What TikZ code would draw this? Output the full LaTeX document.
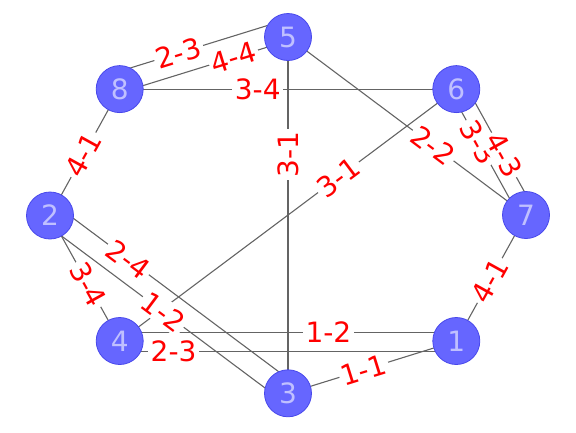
\documentclass[tikz,border=0pt]{standalone}
\usepackage{fontspec}
\setmainfont{DejaVu Sans}
\usetikzlibrary{backgrounds}

\definecolor{nodeblue}{RGB}{102,102,255}
\definecolor{nodeedge}{RGB}{72,72,235}
\definecolor{nodetext}{RGB}{192,192,255}
\definecolor{linkgray}{RGB}{100,100,100}

\tikzset{
  vertex/.style={circle, fill=nodeblue, draw=nodeedge, line width=0.8pt,
    minimum size=47pt, inner sep=0pt, text=nodetext,
    font=\fontsize{28}{32}\selectfont},
  link/.style={draw=linkgray, line width=1.1pt},
  tag/.style={sloped, fill=white, text=red, inner sep=2.5pt,
    font=\fontsize{28}{32}\selectfont},
}

\begin{document}
\begin{tikzpicture}[x=1pt, y=-1pt]
  \useasboundingbox (0,0) rectangle (576,432);

  % nodes on an ellipse
  \node[vertex] (n7) at (526,215)     {7};
  \node[vertex] (n6) at (456.3,89.1)  {6};
  \node[vertex] (n5) at (288,37)      {5};
  \node[vertex] (n8) at (119.7,89.1)  {8};
  \node[vertex] (n2) at (50,215.5)    {2};
  \node[vertex] (n4) at (119.7,341)   {4};
  \node[vertex] (n3) at (288,393.3)   {3};
  \node[vertex] (n1) at (456.3,341)   {1};

  \begin{scope}[on background layer]
    % single edges
    \draw[link] (n8.center) -- node[tag, pos=0.41] {3-4} (n6.center);
    \draw[link] (n3.center) -- node[tag, pos=0.67] {3-1} (n5.center);
    \draw[link] (n6.center) -- node[tag, pos=0.35] {3-1} (n4.center);
    \draw[link] (n5.center) -- node[tag, pos=0.61] {2-2} (n7.center);
    \draw[link] (n2.center) -- node[tag, pos=0.48] {4-1} (n8.center);
    \draw[link] (n2.center) -- node[tag, pos=0.55] {3-4} (n4.center);
    \draw[link] (n3.center) -- node[tag, pos=0.45] {1-1} (n1.center);
    \draw[link] (n1.center) -- node[tag, pos=0.48] {4-1} (n7.center);

    % parallel edges, shifted off the centre line
    \draw[link] ([shift={(-5,-16.3)}]n8.center) -- node[tag, pos=0.38] {2-3}
                ([shift={(-5,-16.3)}]n5.center);
    \draw[link] ([shift={(1.1,3.4)}]n8.center) -- node[tag, pos=0.67] {4-4}
                ([shift={(1.1,3.4)}]n5.center);

    \draw[link] ([shift={(0,-8.5)}]n4.center) -- node[tag, pos=0.62] {1-2}
                ([shift={(0,-8.5)}]n1.center);
    \draw[link] ([shift={(0,10.5)}]n4.center) -- node[tag, pos=0.16] {2-3}
                ([shift={(0,10.5)}]n1.center);

    \draw[link] ([shift={(-5.6,3.05)}]n6.center) -- node[tag, pos=0.40] {3-3}
                ([shift={(-5.6,3.05)}]n7.center);
    \draw[link] ([shift={(8.7,-4.7)}]n6.center) -- node[tag, pos=0.56] {4-3}
                ([shift={(8.7,-4.7)}]n7.center);

    \draw[link] ([shift={(7,-9.4)}]n2.center) -- node[tag, pos=0.30] {2-4}
                ([shift={(7,-9.4)}]n3.center);
    \draw[link] ([shift={(-5.7,7.6)}]n2.center) -- node[tag, pos=0.50] {1-2}
                ([shift={(-5.7,7.6)}]n3.center);
  \end{scope}
\end{tikzpicture}
\end{document}
